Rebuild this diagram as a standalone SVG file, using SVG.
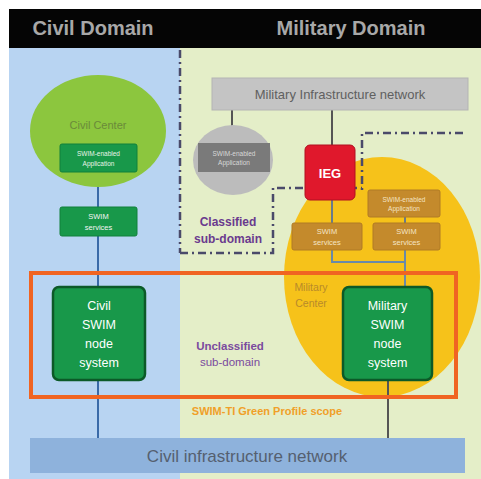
<svg xmlns="http://www.w3.org/2000/svg" width="481" height="479" viewBox="0 0 481 479">
<style>
text{font-family:"Liberation Sans","Noto Sans",Arial,sans-serif;text-anchor:middle}
.hdr{font-size:20px;font-weight:bold;fill:#a8a8a8}
.gbox{fill:#18984a;stroke:#10803a;stroke-width:1}
.node{fill:#18984a;stroke:#0c5a28;stroke-width:2.5}
.bbox{fill:#c48a2c;stroke:#b07a24;stroke-width:1}
.tiny{font-size:6.5px;fill:#e8f4e8}
.small{font-size:7.5px;fill:#f4f4f4}
.nt{font-size:12.5px;fill:#ffffff}
.purple{fill:#6a3a8e;font-weight:bold;font-size:12px}
.dd{fill:none;stroke:#4a4a6a;stroke-width:2.5;stroke-dasharray:8,4,2,4}
.ln{fill:none;stroke-width:2}
</style>
<rect width="481" height="479" fill="#ffffff"/>
<g id="civil-domain">
<rect x="9" y="48" width="171" height="431" fill="#b8d4f2"/>
</g>
<g id="military-domain">
<rect x="180" y="48" width="301" height="431" fill="#e4eec8"/>
</g>
<g id="header">
<rect x="9" y="9" width="472" height="39" fill="#050505"/>
<text class="hdr" x="93" y="35">Civil Domain</text>
<text class="hdr" x="351" y="35">Military Domain</text>
</g>
<g id="military-center">
<ellipse cx="382" cy="277" rx="98" ry="120" fill="#f6c21a"/>
<text x="311" y="291" style="font-size:10.5px;fill:#b88a2a">Military</text>
<text x="311" y="307" style="font-size:10.5px;fill:#b88a2a">Center</text>
</g>
<g id="connectors">
<line class="ln" x1="98" y1="172" x2="98" y2="438" stroke="#3a6aa8"/>
<line class="ln" x1="232" y1="110" x2="232" y2="143" stroke="#555555"/>
<line class="ln" x1="332" y1="110" x2="332" y2="145" stroke="#555555"/>
<line class="ln" x1="332" y1="200" x2="332" y2="223" stroke="#6a7a8a"/>
<line class="ln" x1="405" y1="217" x2="405" y2="223" stroke="#6a7a8a"/>
<polyline class="ln" points="332,250 332,262 405,262" stroke="#6a8aa8"/>
<line class="ln" x1="405" y1="250" x2="405" y2="287" stroke="#6a8aa8"/>
<line class="ln" x1="388" y1="380" x2="388" y2="438" stroke="#555555"/>
</g>
<g id="classified-boundary">
<line class="dd" x1="180" y1="50" x2="180" y2="253" stroke="#3a5a6a"/>
<polyline class="dd" points="180,253 273,253 273,188 362,188"/>
<polyline class="dd" points="463,133 362,133 362,190"/>
</g>
<g id="civil-center">
<ellipse cx="98" cy="131" rx="68" ry="56" fill="#8cc63e"/>
<text x="98" y="129" style="font-size:11px;fill:#6a8a3a">Civil Center</text>
</g>
<g id="civil-app">
<rect class="gbox" x="60" y="144" width="77" height="28" rx="2"/>
<text class="tiny" x="98.5" y="156">SWIM-enabled</text>
<text class="tiny" x="98.5" y="166">Application</text>
</g>
<g id="civil-services">
<rect class="gbox" x="60" y="207" width="77" height="29" rx="2"/>
<text class="small" x="98.5" y="219">SWIM</text>
<text class="small" x="98.5" y="230">services</text>
</g>
<g id="military-infra">
<rect x="212" y="78" width="256" height="32" fill="#c4c4c4" stroke="#b4b4b4"/>
<text x="340" y="99" style="font-size:13px;fill:#606060">Military Infrastructure network</text>
</g>
<g id="classified-app">
<ellipse cx="233" cy="160" rx="40" ry="35" fill="#bcbcbc"/>
<rect x="198" y="143" width="72" height="29" fill="#7a7a7a"/>
<text x="234" y="156" style="font-size:6.5px;fill:#d8d8d8">SWIM-enabled</text>
<text x="234" y="165" style="font-size:6.5px;fill:#d8d8d8">Application</text>
</g>
<g id="ieg">
<rect x="305" y="145" width="50" height="55" rx="5" fill="#e0182c" stroke="#b01020"/>
<text x="330" y="178" style="font-size:13px;font-weight:bold;fill:#ffffff">IEG</text>
</g>
<g id="classified-label">
<text class="purple" x="228" y="226">Classified</text>
<text class="purple" x="228" y="243">sub-domain</text>
</g>
<g id="military-app">
<rect class="bbox" x="368" y="190" width="72" height="27" rx="2"/>
<text class="tiny" x="404" y="202" style="fill:#f4e4c4">SWIM-enabled</text>
<text class="tiny" x="404" y="211" style="fill:#f4e4c4">Application</text>
</g>
<g id="military-services-1">
<rect class="bbox" x="292" y="223" width="70" height="27" rx="2"/>
<text class="small" x="327" y="234" style="fill:#f4e4c4">SWIM</text>
<text class="small" x="327" y="245" style="fill:#f4e4c4">services</text>
</g>
<g id="military-services-2">
<rect class="bbox" x="373" y="223" width="67" height="27" rx="2"/>
<text class="small" x="406.5" y="234" style="fill:#f4e4c4">SWIM</text>
<text class="small" x="406.5" y="245" style="fill:#f4e4c4">services</text>
</g>
<g id="green-profile-scope">
<rect x="31" y="273" width="425" height="124" fill="none" stroke="#f06422" stroke-width="4"/>
<text x="267" y="415" style="font-size:11px;font-weight:bold;fill:#f0a028">SWIM-TI Green Profile scope</text>
</g>
<g id="civil-node">
<rect class="node" x="53" y="287" width="92" height="93" rx="6"/>
<text class="nt" x="99" y="310">Civil</text>
<text class="nt" x="99" y="329">SWIM</text>
<text class="nt" x="99" y="348">node</text>
<text class="nt" x="99" y="367">system</text>
</g>
<g id="military-node">
<rect class="node" x="343" y="287" width="89" height="93" rx="6"/>
<text class="nt" x="387.5" y="310">Military</text>
<text class="nt" x="387.5" y="329">SWIM</text>
<text class="nt" x="387.5" y="348">node</text>
<text class="nt" x="387.5" y="367">system</text>
</g>
<g id="unclassified-label">
<text x="230" y="350" style="font-size:11.5px;font-weight:bold;fill:#7a4a9e">Unclassified</text>
<text x="230" y="366" style="font-size:11.5px;fill:#7a4a9e">sub-domain</text>
</g>
<g id="civil-infra">
<rect x="30" y="438" width="435" height="35" fill="#8eb2dc"/>
<text x="247" y="462" style="font-size:17px;fill:#556070">Civil infrastructure network</text>
</g>
</svg>
